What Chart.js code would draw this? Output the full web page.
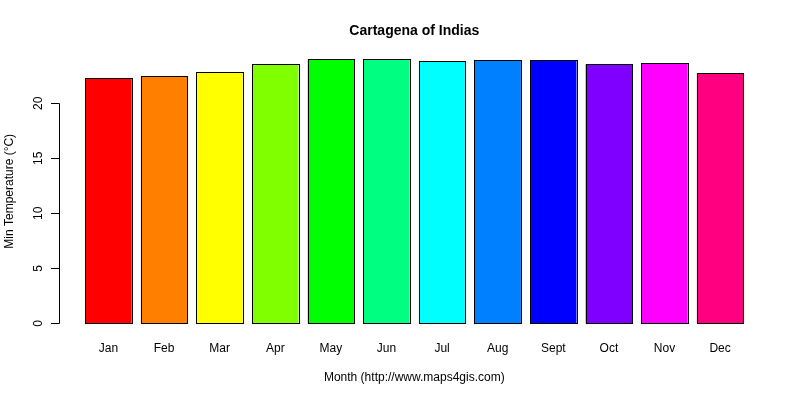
<!DOCTYPE html>
<html>
<head>
<meta charset="utf-8">
<script src="https://cdn.jsdelivr.net/npm/chart.js@4/dist/chart.umd.min.js"></script>
<style>
html,body{margin:0;padding:0;background:#fff;}
#c{display:block;}
</style>
</head>
<body>
<canvas id="c" width="800" height="400"></canvas>
<script>
const months = ["Jan","Feb","Mar","Apr","May","Jun","Jul","Aug","Sept","Oct","Nov","Dec"];
const minTemp = [22.3, 22.45, 22.8, 23.55, 24.0, 24.0, 23.8, 23.9, 23.9, 23.55, 23.65, 22.75];
const barColors = ["#FF0000","#FF8000","#FFFF00","#80FF00","#00FF00","#00FF80","#00FFFF","#0080FF","#0000FF","#8000FF","#FF00FF","#FF0080"];
const yTicks = [0, 5, 10, 15, 20];
const chartTitle = "Cartagena of Indias";
const xTitle = "Month (http://www.maps4gis.com)";
const yTitle = "Min Temperature (°C)";

const FONT = '"Liberation Sans", Arial, sans-serif';

const barOutline = {
  id: 'barOutline',
  afterDatasetsDraw(chart) {
    const ctx = chart.ctx;
    const meta = chart.getDatasetMeta(0);
    ctx.save();
    ctx.strokeStyle = '#000';
    ctx.lineWidth = 1;
    meta.data.forEach(el => {
      const p = el.getProps(['x', 'y', 'base', 'width'], true);
      const l = Math.round(p.x - p.width / 2) + 0.5;
      const r = Math.round(p.x + p.width / 2) + 0.5;
      const t = Math.round(p.y) + 0.5;
      const b = Math.round(p.base) + 0.5;
      ctx.strokeRect(l, t, r - l, b - t);
    });
    ctx.restore();
  }
};

const rAxes = {
  id: 'rAxes',
  afterDraw(chart) {
    const ctx = chart.ctx;
    const y = chart.scales.y, x = chart.scales.x;
    ctx.save();
    ctx.strokeStyle = '#000';
    ctx.lineWidth = 1;
    const ax = 59.5;
    const y0 = y.getPixelForValue(yTicks[0]);
    const y1 = y.getPixelForValue(yTicks[yTicks.length - 1]);
    ctx.beginPath();
    ctx.moveTo(ax, Math.round(y0) + 0.5);
    ctx.lineTo(ax, Math.round(y1) + 0.5);
    yTicks.forEach(t => {
      const py = Math.round(y.getPixelForValue(t)) + 0.5;
      ctx.moveTo(ax, py);
      ctx.lineTo(51, py);
    });
    ctx.stroke();
    ctx.fillStyle = '#000';
    ctx.font = '12px ' + FONT;
    ctx.textAlign = 'center';
    ctx.textBaseline = 'middle';
    yTicks.forEach(t => {
      const py = y.getPixelForValue(t);
      ctx.save();
      ctx.translate(39, py);
      ctx.rotate(-Math.PI / 2);
      ctx.fillText(String(t), 0, 0);
      ctx.restore();
    });
    months.forEach((m, i) => {
      ctx.fillText(m, x.getPixelForValue(i), 348.5);
    });
    ctx.fillText(xTitle, (chart.chartArea.left + chart.chartArea.right) / 2, 378);
    ctx.save();
    ctx.translate(10, (y.getPixelForValue(0) + y.getPixelForValue(24)) / 2);
    ctx.rotate(-Math.PI / 2);
    ctx.fillText(yTitle, 0, 0);
    ctx.restore();
    ctx.font = 'bold 14px ' + FONT;
    ctx.fillText(chartTitle, (chart.chartArea.left + chart.chartArea.right) / 2, 31);
    ctx.restore();
  }
};

new Chart(document.getElementById('c'), {
  type: 'bar',
  data: {
    labels: months,
    datasets: [{
      data: minTemp,
      backgroundColor: barColors,
      borderWidth: 0,
      barPercentage: 0.835,
      categoryPercentage: 1.0
    }]
  },
  options: {
    responsive: false,
    animation: false,
    devicePixelRatio: 1,
    layout: { padding: { left: 80.7, right: 52.1, top: 48.7, bottom: 66.1 } },
    plugins: { legend: { display: false }, tooltip: { enabled: false }, title: { display: false } },
    scales: {
      x: { display: false, offset: true },
      y: { display: false, min: -0.96, max: 24.96 }
    }
  },
  plugins: [barOutline, rAxes]
});
</script>
</body>
</html>
